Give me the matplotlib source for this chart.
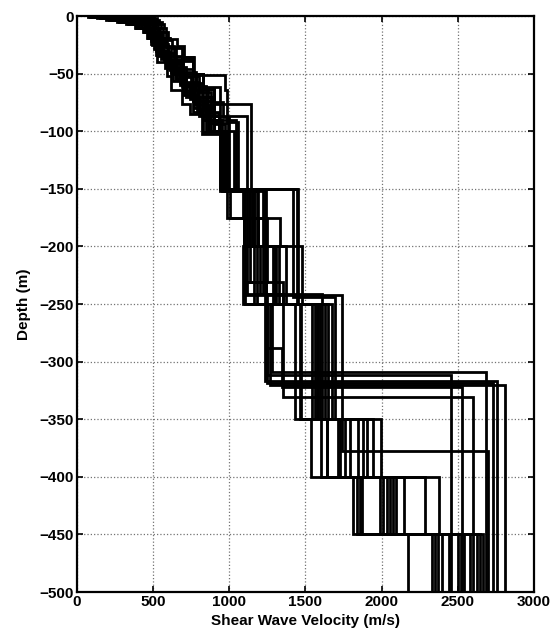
import numpy as np
import matplotlib
matplotlib.use("Agg")
import matplotlib.pyplot as plt

# layer tops shared by every profile near the surface (m)
shallow_tops = [0, 1, 2, 3.5, 5, 7, 10, 14, 19]

# profile names (A = jumps to fast rock near 320 m, B = layered to 500 m)
names = ['A1', 'A2', 'A3', 'A4', 'A5', 'A6', 'A7',
         'B1', 'B2', 'B3', 'B4', 'B5', 'B6', 'B7', 'B8', 'B9', 'B10',
         'B11', 'B12', 'B13', 'S']

# shear wave velocity of the shallow layers (m/s)
shallow_vs = [
    [200, 255, 305, 355, 400, 440, 470, 495, 520],   # A1
    [310, 350, 385, 420, 450, 475, 500, 525, 550],   # A2
    [120, 185, 240, 300, 355, 405, 450, 475, 500],   # A3
    [415, 440, 460, 485, 505, 520, 540, 560, 585],   # A4
    [160, 220, 270, 325, 375, 420, 460, 485, 510],   # A5
    [395, 420, 445, 470, 490, 510, 530, 550, 575],   # A6
    [490, 505, 525, 540, 560, 570, 585, 600, 615],   # A7
    [72, 135, 190, 265, 325, 380, 435, 460, 485],    # B1
    [220, 275, 320, 365, 410, 445, 475, 500, 525],   # B2
    [360, 390, 420, 450, 475, 495, 515, 540, 565],   # B3
    [270, 320, 360, 400, 435, 460, 490, 515, 540],   # B4
    [375, 400, 430, 460, 485, 505, 525, 545, 570],   # B5
    [460, 480, 500, 520, 540, 550, 565, 585, 605],   # B6
    [180, 235, 290, 340, 390, 430, 465, 490, 515],   # B7
    [85, 150, 210, 280, 335, 390, 440, 465, 490],    # B8
    [100, 165, 225, 290, 345, 395, 445, 470, 495],   # B9
    [255, 305, 350, 390, 425, 455, 485, 510, 535],   # B10
    [435, 455, 475, 495, 515, 530, 545, 565, 590],   # B11
    [325, 360, 395, 430, 460, 480, 505, 530, 555],   # B12
    [140, 200, 255, 310, 365, 410, 455, 480, 505],   # B13
    [290, 335, 375, 410, 440, 470, 495, 520, 545],   # S
]

# deeper layer tops (m) for each profile
deep_tops = [
    [24, 33, 45, 58, 74, 100, 151, 200, 250, 309],
    [25, 38, 50, 63, 83, 100, 150, 241, 312],
    [22, 30, 42, 55, 70, 87, 100, 152, 231, 317],
    [26, 36, 50, 62, 152, 250, 319],
    [23, 35, 46, 60, 76, 90, 152, 200, 250, 320],
    [27, 40, 52, 66, 83, 100, 150, 288, 322],
    [20, 26, 36, 51, 64, 92, 152, 241, 331],
    [24, 40, 52, 64, 76, 85, 102, 150, 175, 200, 250, 350, 400, 450],
    [22, 30, 41, 54, 68, 82, 100, 150, 250, 350, 400, 450],
    [25, 36, 47, 60, 72, 86, 100, 152, 200, 250, 350, 400, 450],
    [23, 32, 44, 57, 70, 87, 150, 242, 350, 400, 450],
    [26, 38, 49, 61, 74, 91, 100, 150, 244, 350, 400, 450],
    [21, 28, 37, 50, 63, 76, 152, 200, 250, 350, 400, 450],
    [24, 33, 43, 55, 66, 80, 100, 151, 231, 250, 350, 400, 450],
    [22, 29, 38, 50, 62, 74, 90, 150, 175, 231, 250, 350, 400, 450],
    [25, 34, 45, 56, 69, 83, 101, 150, 175, 200, 250, 350, 400, 450],
    [23, 31, 42, 53, 65, 79, 94, 152, 200, 241, 350, 400, 450],
    [27, 39, 50, 63, 75, 88, 100, 150, 200, 250, 350, 400, 450],
    [24, 35, 46, 58, 70, 84, 100, 150, 250, 350, 400, 450],
    [22, 30, 40, 51, 64, 77, 93, 152, 200, 250, 350, 400, 450],
    [25, 37, 49, 61, 73, 87, 100, 150, 200, 250, 350, 378],
]

# velocities of those deeper layers (m/s)
deep_vs = [
    [540, 600, 680, 760, 850, 955, 1100, 1180, 1280, 2685],
    [590, 680, 780, 860, 900, 945, 1120, 1246, 2455],
    [520, 590, 650, 720, 800, 880, 980, 1135, 1236, 2760],
    [640, 760, 829, 940, 1160, 1250, 2730],
    [530, 610, 690, 770, 850, 1046, 1180, 1300, 1270, 2810],
    [620, 700, 800, 880, 930, 965, 1240, 1347, 2525],
    [660, 702, 767, 974, 987, 1060, 1220, 1354, 2600],
    [526, 592, 619, 691, 743, 822, 945, 1007, 1336, 1092, 1432, 1535, 1870, 2175],
    [540, 600, 660, 720, 790, 870, 970, 1452, 1465, 1644, 1815, 2330],
    [560, 610, 680, 740, 810, 900, 955, 1150, 1480, 1541, 1716, 2285, 2350],
    [550, 640, 720, 800, 900, 1117, 1105, 1738, 1760, 2011, 2395],
    [600, 700, 780, 850, 900, 930, 960, 1420, 1694, 1727, 1990, 2370],
    [625, 690, 760, 829, 900, 1141, 1190, 1290, 1563, 1793, 2379, 2440],
    [530, 590, 650, 700, 770, 860, 985, 1236, 1350, 1574, 1847, 2034, 2500],
    [510, 570, 620, 690, 760, 830, 950, 1093, 1250, 1105, 1585, 1902, 2055, 2540],
    [520, 580, 630, 700, 760, 830, 940, 987, 1190, 1375, 1596, 1946, 2077, 2580],
    [545, 610, 690, 750, 830, 900, 975, 1130, 1200, 1607, 1994, 2095, 2625],
    [650, 760, 830, 900, 960, 1000, 1030, 1160, 1240, 1629, 1600, 1837, 2645],
    [600, 690, 760, 820, 880, 930, 965, 1445, 1651, 1880, 1860, 2665],
    [530, 590, 650, 720, 790, 870, 990, 1100, 1310, 1673, 1640, 2150, 2520],
    [550, 620, 700, 770, 850, 930, 1000, 1100, 1330, 1474, 1738, 2700],
]

max_depth = 500

x_ticks = np.arange(0, 3001, 500)
y_ticks = np.arange(-500, 1, 50)

plt.rcParams['font.family'] = ['Liberation Sans', 'DejaVu Sans']

fig = plt.figure(figsize=(5.54, 6.38), dpi=100)
ax = fig.add_axes([0.1385, 0.0721, 0.8255, 0.9028])

for i in range(len(names)):
    tops = shallow_tops + deep_tops[i]
    vs = shallow_vs[i] + deep_vs[i]
    bots = tops[1:] + [max_depth]
    xs = []
    ys = []
    for v, t, b in zip(vs, tops, bots):
        xs += [v, v]
        ys += [-t, -b]
    ax.plot(xs, ys, color='k', lw=2, solid_joinstyle='miter', zorder=3)

ax.set_xlim(0, 3000)
ax.set_ylim(-500, 0)
ax.set_xticks(x_ticks)
ax.set_yticks(y_ticks)
ax.set_xticklabels([str(t) for t in x_ticks], fontweight='bold', fontsize=11)
ax.set_yticklabels([str(t).replace('-', '\u2212') for t in y_ticks],
                   fontweight='bold', fontsize=11)
ax.grid(True, linestyle=':', color='0.45', linewidth=0.9)
ax.tick_params(direction='in', length=4, width=1.2, top=True, right=True, pad=2)
for s in ax.spines.values():
    s.set_linewidth(1.6)

ax.set_xlabel('Shear Wave Velocity (m/s)', fontweight='bold', fontsize=11, labelpad=4)
ax.set_ylabel('Depth (m)', fontweight='bold', fontsize=11, labelpad=6)

fig.savefig('out.png', dpi=100)
